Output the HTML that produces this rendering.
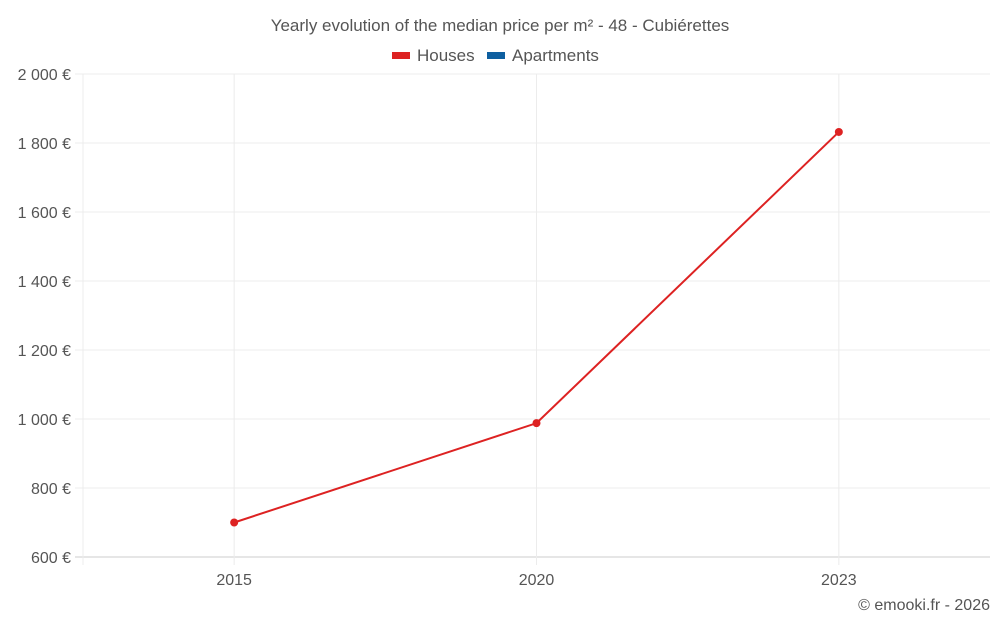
<!DOCTYPE html>
<html><head><meta charset="utf-8"><style>
body{margin:0;background:#fff;font-family:"Liberation Sans",sans-serif;}
svg text{font-family:"Liberation Sans",sans-serif;fill:#555;}
</style></head><body>
<svg width="1000" height="625">
<text x="500" y="31" text-anchor="middle" font-size="17">Yearly evolution of the median price per m² - 48 - Cubiérettes</text>
<g>
<rect x="392" y="52" width="18" height="7" fill="#dd2222"/>
<text x="417" y="61" font-size="17">Houses</text>
<rect x="487" y="52" width="18" height="7" fill="#0e5fa0"/>
<text x="512" y="61" font-size="17">Apartments</text>
</g>
<g id="grid"></g>
<g id="yaxis"></g>
<g id="xaxis"></g>
<g id="series"></g>
<text x="990" y="610" text-anchor="end" font-size="16">© emooki.fr - 2026</text>
</svg>
<script>
const categories=["2015","2020","2023"];
const housesValues=[700,988,1832];
const yTicks=[600,800,1000,1200,1400,1600,1800,2000];
const L=83,R=990,T=74,B=557,ymin=600,ymax=2000;
const NS="http://www.w3.org/2000/svg";
function y(v){return B-(v-ymin)/(ymax-ymin)*(B-T);}
function x(i){const w=(R-L)/categories.length;return L+w*(i+0.5);}
function mk(t,a,p){const e=document.createElementNS(NS,t);for(const k in a)e.setAttribute(k,a[k]);p.appendChild(e);return e;}
const grid=document.getElementById('grid'),ya=document.getElementById('yaxis'),xa=document.getElementById('xaxis'),s=document.getElementById('series');
yTicks.forEach(v=>{
 const l=mk('line',{x1:L-8,x2:R,y1:y(v),y2:y(v),stroke:v===ymin?'#ccc':'#ececec','stroke-width':1},grid);
 
 
 const t=mk('text',{x:71,y:y(v)+6,'text-anchor':'end','font-size':16},ya);
 t.textContent=v.toLocaleString('en').replace(/,/g,' ')+' €';
 
 
});
const l0=mk('line',{x1:L,x2:L,y1:T,y2:B+8,stroke:'#ececec'},grid);


categories.forEach((c,i)=>{
 const l=mk('line',{x1:x(i),x2:x(i),y1:T,y2:B+8,stroke:'#ececec'},grid);
 
 
 const t=mk('text',{x:x(i),y:585,'text-anchor':'middle','font-size':16},xa);
 t.textContent=c;
 
 
});
const pl=mk('polyline',{points:housesValues.map((v,i)=>x(i)+','+y(v)).join(' '),fill:'none',stroke:'#dd2222','stroke-width':2},s);


housesValues.forEach((v,i)=>{
 const c=mk('circle',{cx:x(i),cy:y(v),r:4,fill:'#dd2222'},s);
 
 
});
</script>
</body></html>
